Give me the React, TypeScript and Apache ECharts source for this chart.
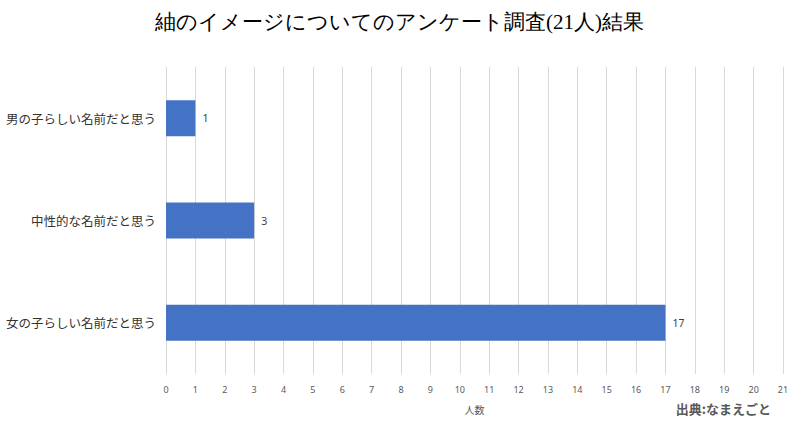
import React, { useEffect, useRef } from "react";
import * as echarts from "echarts";

const titleText = "紬のイメージについてのアンケート調査(21人)結果";
const categories = ["女の子らしい名前だと思う", "中性的な名前だと思う", "男の子らしい名前だと思う"];
const values = [17, 3, 1];
const axisName = "人数";
const sourceText = "出典:なまえごと";

export default function App() {
  const ref = useRef<HTMLDivElement>(null);
  useEffect(() => {
    const chart = echarts.init(ref.current!, null, { renderer: "svg" });
    chart.setOption({
      animation: false,
      backgroundColor: "#ffffff",
      title: {
        text: titleText,
        left: "center",
        top: 6,
        textStyle: { fontFamily: "serif", fontSize: 21, fontWeight: "normal", color: "#000" },
      },
      grid: { left: 166, right: 16, top: 67, bottom: 55 },
      xAxis: {
        type: "value",
        min: 0,
        max: 21,
        interval: 1,
        name: axisName,
        nameLocation: "middle",
        nameGap: 30,
        nameTextStyle: { fontSize: 10, color: "#595959", fontFamily: "Noto Sans CJK JP" },
        axisLine: { show: false },
        axisTick: { show: false },
        axisLabel: { fontSize: 9, color: "#595959", margin: 11, fontFamily: "Noto Sans" },
        splitLine: { show: true, lineStyle: { color: "#d9d9d9", width: 1 } },
      },
      yAxis: {
        type: "category",
        data: categories,
        axisLine: { show: false },
        axisTick: { show: false },
        axisLabel: { fontSize: 12.5, color: "#333", margin: 10, fontFamily: "Noto Sans CJK JP" },
      },
      series: [
        {
          type: "bar",
          data: values,
          barWidth: 36,
          itemStyle: { color: "#4472c4" },
          label: { show: true, position: "right", fontSize: 10.5, color: "#404040", distance: 7, fontFamily: "Noto Sans" },
        },
      ],
      graphic: [
        {
          type: "text",
          right: 28,
          top: 402,
          style: { text: sourceText, fontSize: 13, fontWeight: "bold", fill: "#595959", fontFamily: "Noto Sans CJK JP" },
        },
      ],
    });
    return () => chart.dispose();
  }, []);
  return (
    <div style={{ position: "fixed", left: 0, top: 0, width: 799, height: 429, background: "#fff" }}>
      <div ref={ref} style={{ width: 799, height: 429 }} />
    </div>
  );
}
